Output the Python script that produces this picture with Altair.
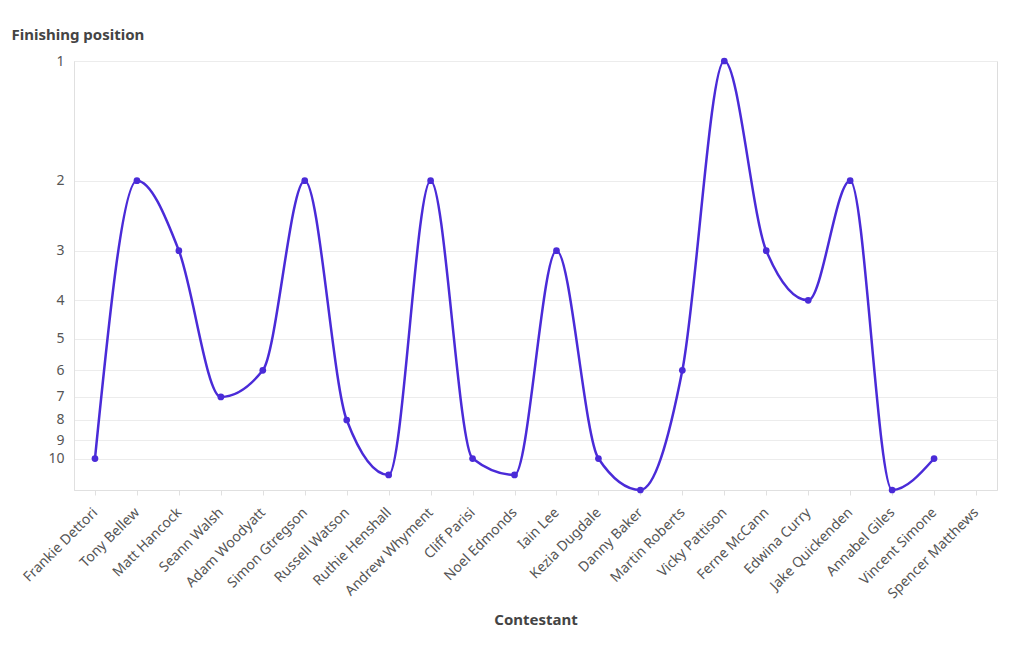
import altair as alt
import pandas as pd

contestants = ["Frankie Dettori", "Tony Bellew", "Matt Hancock", "Seann Walsh", "Adam Woodyatt",
               "Simon Gtregson", "Russell Watson", "Ruthie Henshall", "Andrew Whyment", "Cliff Parisi",
               "Noel Edmonds", "Iain Lee", "Kezia Dugdale", "Danny Baker", "Martin Roberts",
               "Vicky Pattison", "Ferne McCann", "Edwina Curry", "Jake Quickenden", "Annabel Giles",
               "Vincent Simone", "Spencer Matthews"]
positions = [10, 2, 3, 7, 6, 2, 8, 11, 2, 10, 11, 3, 10, 12, 6, 1, 3, 4, 2, 12, 10, None]
y_ticks = [1, 2, 3, 4, 5, 6, 7, 8, 9, 10]

df = pd.DataFrame({"Contestant": contestants, "Position": positions})

FONT = "Noto Sans"
COLOR = "#4a2bd8"

x = alt.X("Contestant:N", sort=contestants,
          scale=alt.Scale(domain=contestants, type="point", padding=0.5),
          axis=alt.Axis(title="Contestant", labelAngle=-45, labelAlign="right",
                        labelBaseline="middle", labelFontSize=14, labelColor="#555555",
                        titleFontSize=15, titleFontWeight="bold", titleColor="#444444",
                        titlePadding=12, domainColor="#e0e0e0", tickColor="#e0e0e0",
                        tickSize=5, grid=False, labelPadding=15))
y = alt.Y("Position:Q",
          scale=alt.Scale(type="log", domain=[1, 12], reverse=True, nice=False),
          axis=alt.Axis(title="Finishing position", values=y_ticks, format="d",
                        labelFontSize=14, labelColor="#555555", labelPadding=10,
                        ticks=False, domainColor="#e0e0e0", gridColor="#ececec",
                        titleAngle=0, titleAlign="left", titleBaseline="middle",
                        titleX=-63, titleY=-27, titleFontSize=15, titleFontWeight="bold",
                        titleColor="#444444"))

base = alt.Chart(df).encode(x=x, y=y)
line = base.mark_line(interpolate="monotone", color=COLOR, strokeWidth=2.5)
pts = base.mark_point(filled=True, color=COLOR, size=45, opacity=1)

chart = (line + pts).properties(
    width=923, height=429,
    padding={"left": 11, "top": 27, "right": 5, "bottom": 5},
).configure_view(stroke=None).configure(font=FONT)

chart.save("out.html", embed_options={"renderer": "svg", "actions": False})
